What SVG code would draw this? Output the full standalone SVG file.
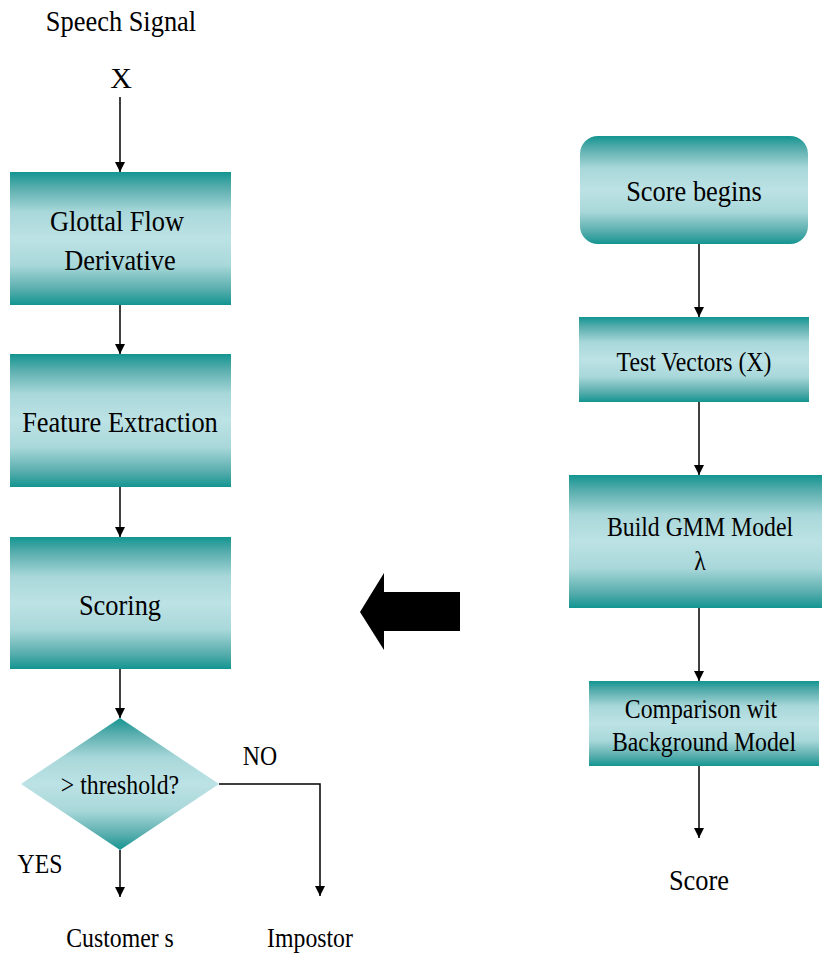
<svg xmlns="http://www.w3.org/2000/svg" width="822" height="958" viewBox="0 0 822 958">
  <defs>
    <linearGradient id="band" x1="0" y1="0" x2="0" y2="1">
      <stop offset="0" stop-color="#139591"/>
      <stop offset="0.12" stop-color="#5aaeae"/>
      <stop offset="0.3" stop-color="#a9d8da"/>
      <stop offset="0.5" stop-color="#bce2e5"/>
      <stop offset="0.7" stop-color="#a9d8da"/>
      <stop offset="0.88" stop-color="#5aaeae"/>
      <stop offset="1" stop-color="#139591"/>
    </linearGradient>
    <marker id="head" viewBox="0 0 10 10" refX="10" refY="5" markerWidth="10" markerHeight="10" markerUnits="userSpaceOnUse" orient="auto">
      <path d="M0,0 L10,5 L0,10 z" fill="#000"/>
    </marker>
    <style>
      .t { font-family: "Liberation Serif", "Times New Roman", serif; font-size: 30px; fill: #000; text-anchor: middle; }
      .s { font-size: 27px; }
      .box { fill: url(#band); }
      .ar { stroke: #000; stroke-width: 1.5; fill: none; marker-end: url(#head); }
    </style>
  </defs>

  <!-- free labels -->
  <g id="labels">
    <text class="t" x="121" y="31" transform="translate(121 0) scale(0.88 1) translate(-121 0)">Speech Signal</text>
    <text class="t" x="121" y="88">X</text>
    <text class="t s" x="260" y="765" transform="translate(260 0) scale(0.88 1) translate(-260 0)">NO</text>
    <text class="t s" x="40" y="873" transform="translate(40 0) scale(0.88 1) translate(-40 0)">YES</text>
    <text class="t s" x="120" y="947" transform="translate(120 0) scale(0.88 1) translate(-120 0)">Customer s</text>
    <text class="t s" x="310" y="947" transform="translate(310 0) scale(0.88 1) translate(-310 0)">Impostor</text>
    <text class="t" x="699" y="890" transform="translate(699 0) scale(0.88 1) translate(-699 0)">Score</text>
  </g>

  <!-- left column -->
  <g id="glottal">
    <rect class="box" x="10" y="172" width="221" height="133"/>
    <text class="t" x="117" y="231" transform="translate(117 0) scale(0.88 1) translate(-117 0)">Glottal Flow</text>
    <text class="t" x="120" y="270" transform="translate(120 0) scale(0.88 1) translate(-120 0)">Derivative</text>
  </g>
  <g id="feature">
    <rect class="box" x="10" y="354" width="221" height="133"/>
    <text class="t" x="120" y="432" transform="translate(120 0) scale(0.88 1) translate(-120 0)">Feature Extraction</text>
  </g>
  <g id="scoring">
    <rect class="box" x="10" y="537" width="221" height="132"/>
    <text class="t" x="120" y="615" transform="translate(120 0) scale(0.88 1) translate(-120 0)">Scoring</text>
  </g>
  <g id="threshold">
    <polygon class="box" points="120,718 219,784 120,850 21,784"/>
    <text class="t s" x="120" y="794" transform="translate(120 0) scale(0.88 1) translate(-120 0)">&gt; threshold?</text>
  </g>

  <!-- right column -->
  <g id="score-begins">
    <rect class="box" x="580" y="136" width="228" height="108" rx="18" ry="18"/>
    <text class="t" x="694" y="201" transform="translate(694 0) scale(0.88 1) translate(-694 0)">Score begins</text>
  </g>
  <g id="test-vectors">
    <rect class="box" x="579" y="317" width="230" height="85"/>
    <text class="t s" x="694" y="371" transform="translate(694 0) scale(0.88 1) translate(-694 0)">Test Vectors (X)</text>
  </g>
  <g id="build-gmm">
    <rect class="box" x="569" y="475" width="253" height="133"/>
    <text class="t s" x="700" y="536" transform="translate(700 0) scale(0.88 1) translate(-700 0)">Build GMM Model</text>
    <text class="t s" x="700" y="570" transform="translate(700 0) scale(0.88 1) translate(-700 0)">λ</text>
  </g>
  <g id="comparison">
    <rect class="box" x="589" y="681" width="230" height="85"/>
    <text class="t s" x="701" y="718" transform="translate(701 0) scale(0.88 1) translate(-701 0)">Comparison wit</text>
    <text class="t s" x="704" y="751" transform="translate(704 0) scale(0.88 1) translate(-704 0)">Background Model</text>
  </g>

  <!-- block arrow between the columns -->
  <g id="block-arrow">
    <polygon points="360,612 384,573 384,592 460,592 460,631 384,631 384,650" fill="#000"/>
  </g>

  <!-- connectors -->
  <g id="connectors">
    <line class="ar" x1="120" y1="97" x2="120" y2="172"/>
    <line class="ar" x1="120" y1="305" x2="120" y2="354"/>
    <line class="ar" x1="120" y1="487" x2="120" y2="537"/>
    <line class="ar" x1="120" y1="669" x2="120" y2="718"/>
    <line class="ar" x1="120" y1="850" x2="120" y2="897"/>
    <polyline class="ar" points="219,784 320,784 320,896"/>
    <line class="ar" x1="699" y1="244" x2="699" y2="317"/>
    <line class="ar" x1="699" y1="402" x2="699" y2="475"/>
    <line class="ar" x1="699" y1="608" x2="699" y2="681"/>
    <line class="ar" x1="699" y1="766" x2="699" y2="838"/>
  </g>
</svg>
